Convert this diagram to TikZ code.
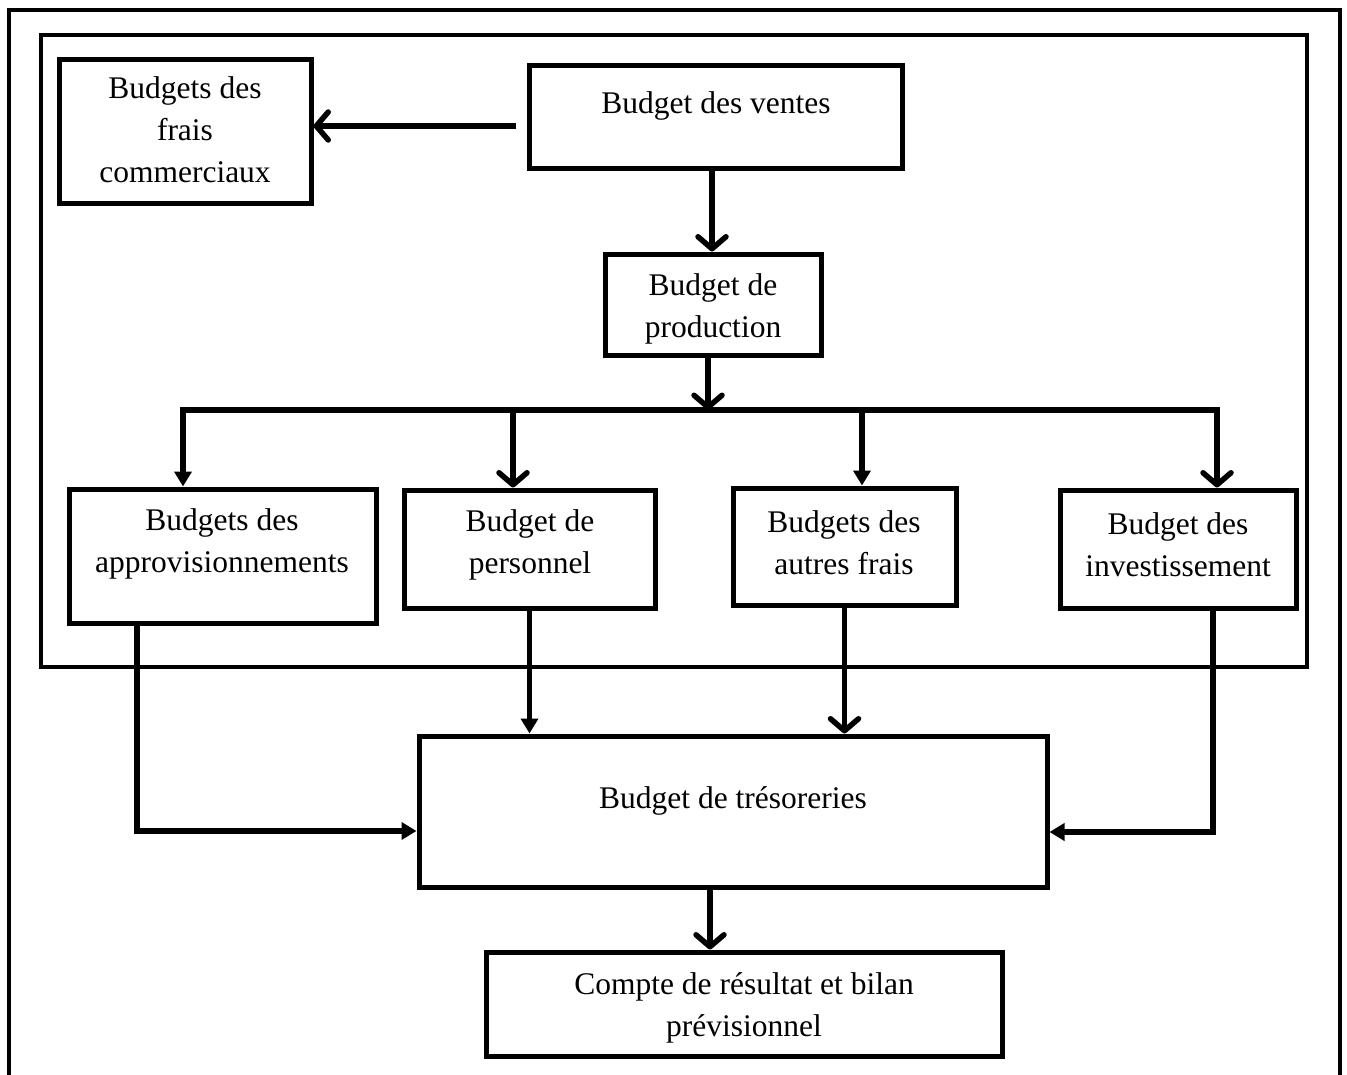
\documentclass[tikz,border=0pt]{standalone}
\usepackage{fontspec}
\setmainfont{Liberation Serif}
\usetikzlibrary{arrows.meta}
\begin{document}
\begin{tikzpicture}[x=1pt,y=-1pt,
  box/.style={draw, line width=5pt, fill=white, inner sep=0pt},
  txt/.style={align=center, inner sep=0pt, font=\fontsize{31.5}{42}\selectfont},
  frame/.style={line width=4.5pt},
  conn/.style={line width=5.5pt},
  barb/.style={conn, -{Straight Barb[length=12pt, width=28pt, round]}},
  tri/.style={conn, -{Triangle[length=15pt, width=17pt]}}
]
\useasboundingbox (0,0) rectangle (1347,1074);

% frames
\draw[frame] (9,1080) -- (9,10) -- (1340,10) -- (1340,1080);
\draw[frame] (41,35) rectangle (1307,667);

% boxes
\node[box, minimum width=252pt, minimum height=144pt] (bfc) at (185,131) {};
\node[box, minimum width=373pt, minimum height=103pt] (bv)  at (715.5,116.5) {};
\node[box, minimum width=216pt, minimum height=101pt] (bp)  at (713,304.5) {};
\node[box, minimum width=307pt, minimum height=134pt] (ba)  at (222.5,556) {};
\node[box, minimum width=251pt, minimum height=118pt] (bpe) at (529.5,549) {};
\node[box, minimum width=223pt, minimum height=117pt] (baf) at (844.5,546.5) {};
\node[box, minimum width=236pt, minimum height=118pt] (bi)  at (1178,549) {};
\node[box, minimum width=628pt, minimum height=151pt] (bt)  at (733,811.5) {};
\node[box, minimum width=516pt, minimum height=104pt] (bc)  at (744,1004) {};

% labels
\node[txt] (bfc-t) at (185,130) {Budgets des\\frais\\commerciaux};
\node[txt] (bv-t)  at (716,105.5) {Budget des ventes};
\node[txt] (bp-t)  at (713,308.5) {Budget de\\production};
\node[txt] (ba-t)  at (222,544) {Budgets des\\approvisionnements};
\node[txt] (bpe-t) at (530,544.5) {Budget de\\personnel};
\node[txt] (baf-t) at (844,542.5) {Budgets des\\autres frais};
\node[txt] (bi-t)  at (1178,544.5) {Budget des\\investissement};
\node[txt] (bt-t)  at (733,800.5) {Budget de trésoreries};
\node[txt] (bc-t)  at (744,1007.5) {Compte de résultat et bilan\\prévisionnel};

% coordinates of the routing
\coordinate (vs)   at (516,126);
\coordinate (pv)   at (712,0);
\coordinate (bus)  at (708,410);
\coordinate (busL) at (183,410);
\coordinate (busR) at (1217,410);
\coordinate (dpe)  at (513,410);
\coordinate (daf)  at (862,410);
\coordinate (ja)   at (137,831);
\coordinate (ji)   at (1213,832);
\coordinate (dc)   at (710,0);

% connectors
\draw[barb] (vs) -- (vs -| bfc.east);
\draw[barb] (pv |- bv.south) -- (pv |- bp.north);
\draw[barb] (bus |- bp.south) -- (bus);
\draw[conn, line cap=rect] (busL) -- (busR);
\draw[tri]  (busL) -- (busL |- ba.north);
\draw[barb] (dpe) -- (dpe |- bpe.north);
\draw[tri]  (daf) -- (daf |- baf.north);
\draw[barb] (busR) -- (busR |- bi.north);

\draw[tri]  (ja |- ba.south) -- (ja) -- (ja -| bt.west);
\draw[tri]  (ji |- bi.south) -- (ji) -- (ji -| bt.east);
\draw[tri]  (bpe.south) -- (bpe.south |- bt.north);
\draw[barb] (baf.south) -- (baf.south |- bt.north);
\draw[barb] (dc |- bt.south) -- (dc |- bc.north);
\end{tikzpicture}
\end{document}
